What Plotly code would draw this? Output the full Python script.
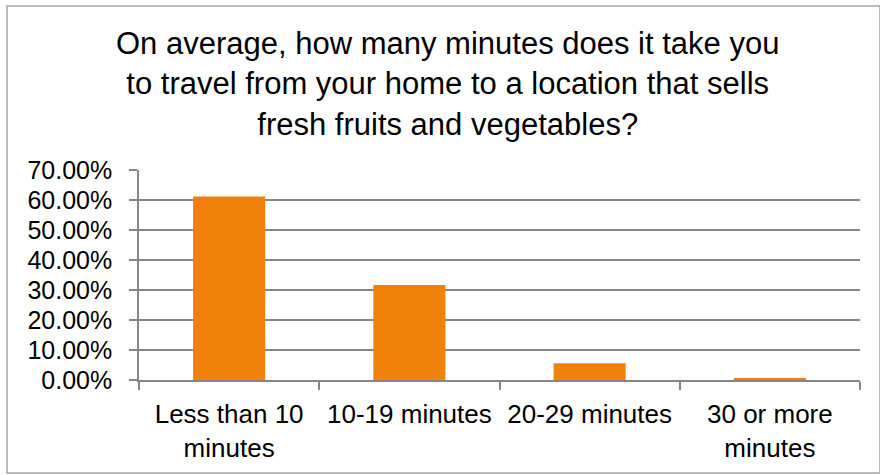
import plotly.graph_objects as go

categories = ["Less than 10<br>minutes", "10-19 minutes", "20-29 minutes", "30 or more<br>minutes"]
values = [0.612, 0.317, 0.056, 0.004]
y_ticks = [0, 0.1, 0.2, 0.3, 0.4, 0.5, 0.6, 0.7]
y_tick_labels = ["0.00%", "10.00%", "20.00%", "30.00%", "40.00%", "50.00%", "60.00%", "70.00%"]
title = "On average, how many minutes does it take you<br>to travel from your home to a location that sells<br>fresh fruits and vegetables?"

W, H = 880, 475
L, R, T, B = 139, 20, 170, 95
pw, ph = W - L - R, H - T - B

def px_x(x):
    return (x - L) / pw

def px_y(y):
    return (H - B - y) / ph

fig = go.Figure(go.Bar(
    x=categories, y=values, marker=dict(color="#F0820C", line=dict(width=0)),
    width=0.4,
))

fig.update_layout(
    width=W, height=H,
    margin=dict(l=L, r=R, t=T, b=B),
    paper_bgcolor="white", plot_bgcolor="white",
    font=dict(family="Liberation Sans, Arial, sans-serif", size=25, color="#000000"),
    showlegend=False,
)
fig.add_annotation(text=title, xref="paper", yref="paper",
                   x=px_x(447), y=px_y(84), xanchor="center", yanchor="middle",
                   showarrow=False, font=dict(size=31, color="#000000"))
fig.update_yaxes(
    range=[0, 0.7], tickvals=y_ticks, ticktext=y_tick_labels,
    showgrid=True, gridcolor="#868686", gridwidth=1.5,
    showline=True, linecolor="#868686", linewidth=1.5,
    ticks="outside", ticklen=8, tickcolor="#868686", tickwidth=1.5,
    ticklabelstandoff=12,
    zeroline=False, fixedrange=True,
)
fig.update_xaxes(
    showline=True, linecolor="#868686", linewidth=1.5,
    ticks="outside", ticklen=8, tickcolor="#868686", tickwidth=1.5,
    tickson="boundaries", showgrid=False, tickfont=dict(size=26),
    ticklabelstandoff=10, fixedrange=True,
)
fig.add_shape(type="rect", xref="paper", yref="paper",
              x0=px_x(7), x1=px_x(880), y0=px_y(473), y1=px_y(6),
              line=dict(color="#A6A6A6", width=1.5), fillcolor="rgba(0,0,0,0)", layer="below")

fig.write_html("out.html", config={"displayModeBar": False},
               post_script="document.body.style.margin='0';")
